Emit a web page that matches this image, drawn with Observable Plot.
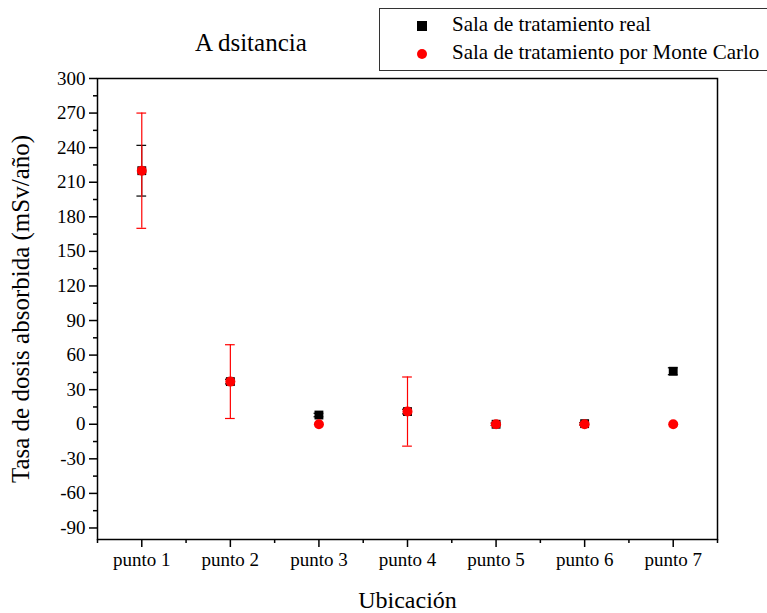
<!DOCTYPE html>
<html><head><meta charset="utf-8">
<script src="https://cdn.jsdelivr.net/npm/d3@7"></script>
<script src="https://cdn.jsdelivr.net/npm/@observablehq/plot@0.6"></script>
</head>
<body style="margin:0;background:#fff;">
<div id="wrap" style="position:relative;width:767px;height:613px;font-family:'Liberation Serif',serif;">
<div id="title" style="position:absolute;left:195px;top:29px;font-size:25px;color:#000;font-family:'Liberation Serif',serif;white-space:nowrap;">A dsitancia</div>
<div id="legend" style="position:absolute;left:379px;top:8px;width:392px;height:63px;border:1px solid #333;box-sizing:border-box;font-size:21px;background:#fff;font-family:'Liberation Serif',serif;">
<div style="position:absolute;left:37px;top:12px;width:10px;height:10px;background:#000;"></div>
<div style="position:absolute;left:72px;top:3px;white-space:nowrap;color:#000;">Sala de tratamiento real</div>
<div style="position:absolute;left:37px;top:40px;width:10px;height:10px;border-radius:50%;background:#f00;"></div>
<div style="position:absolute;left:72px;top:31px;white-space:nowrap;color:#000;">Sala de tratamiento por Monte Carlo</div>
</div></div>
<script>
const puntos = ["punto 1","punto 2","punto 3","punto 4","punto 5","punto 6","punto 7"];
const realVal = [220, 37, 8, 11, 0, 0.5, 46];
const realErr = [22, 2, 1.5, 2, 1, 1, 3];
const mcVal = [220, 37, 0, 11, 0, 0, 0];
const mcErr = [50, 32, 0, 30, 1, 1, 0];
const yMajor = [-90,-60,-30,0,30,60,90,120,150,180,210,240,270,300];
const yMinor = [-75,-45,-15,15,45,75,105,135,165,195,225,255,285];
const xMinor = [0.5,1.5,2.5,3.5,4.5,5.5,6.5,7.5];

const real = puntos.map((p,i)=>({x:i+1, v:realVal[i], e:realErr[i]}));
const mc = puntos.map((p,i)=>({x:i+1, v:mcVal[i], e:mcErr[i]}));
const cap = 0.055;
const serif = "'Liberation Serif', serif";

const chart = Plot.plot({
  width: 767, height: 613,
  marginLeft: 97, marginRight: 50, marginTop: 78, marginBottom: 74,
  style: {fontFamily: serif, fontSize: "19px", color: "#000", background: "#fff", overflow: "visible"},
  x: {domain: [0.5, 7.5]},
  y: {domain: [-100, 300]},
  marks: [
    Plot.axisX({ticks: [1,2,3,4,5,6,7], tickFormat: d => puntos[d-1], tickSize: 8, tickPadding: 5, strokeWidth: 1.5, fontSize: 19,
      label: "Ubicación", labelAnchor: "center", labelArrow: "none", labelOffset: 68}),
    Plot.axisX({ticks: xMinor, tickSize: 4, strokeWidth: 1.5, text: null, label: null}),
    Plot.axisY({ticks: yMajor, tickFormat: d => String(d), tickSize: 8, tickPadding: 4, strokeWidth: 1.5, fontSize: 19,
      label: "Tasa de dosis absorbida (mSv/año)", labelAnchor: "center", labelArrow: "none", labelOffset: 86}),
    Plot.axisY({ticks: yMinor, tickSize: 4, strokeWidth: 1.5, text: null, label: null}),
    Plot.frame({stroke: "#000", strokeWidth: 1.5}),
    Plot.ruleX(real, {x: "x", y1: d => d.v - d.e, y2: d => d.v + d.e, stroke: "#000", strokeWidth: 1}),
    Plot.ruleY(real, {y: d => d.v - d.e, x1: d => d.x - cap, x2: d => d.x + cap, stroke: "#000", strokeWidth: 1.2}),
    Plot.ruleY(real, {y: d => d.v + d.e, x1: d => d.x - cap, x2: d => d.x + cap, stroke: "#000", strokeWidth: 1.2}),
    Plot.dot(real, {x: "x", y: "v", symbol: "square", r: 5, fill: "#000"}),
    Plot.ruleX(mc.filter(d=>d.e>0), {x: "x", y1: d => d.v - d.e, y2: d => d.v + d.e, stroke: "#f00", strokeWidth: 1.2}),
    Plot.ruleY(mc.filter(d=>d.e>0), {y: d => d.v - d.e, x1: d => d.x - cap, x2: d => d.x + cap, stroke: "#f00", strokeWidth: 1.2}),
    Plot.ruleY(mc.filter(d=>d.e>0), {y: d => d.v + d.e, x1: d => d.x - cap, x2: d => d.x + cap, stroke: "#f00", strokeWidth: 1.2}),
    Plot.dot(mc, {x: "x", y: "v", r: 5, fill: "#f00"})
  ]
});
chart.style.position = "absolute";
chart.style.left = "0"; chart.style.top = "0";
const wrap = document.getElementById("wrap");
wrap.insertBefore(chart, wrap.firstChild);
chart.querySelectorAll('text').forEach(t => t.style.fontFamily = serif);
chart.querySelectorAll('[aria-label="y-axis label"] text').forEach(t => t.style.fontSize = "25px");
chart.querySelectorAll('[aria-label="x-axis label"] text').forEach(t => t.style.fontSize = "24px");
</script></body></html>
